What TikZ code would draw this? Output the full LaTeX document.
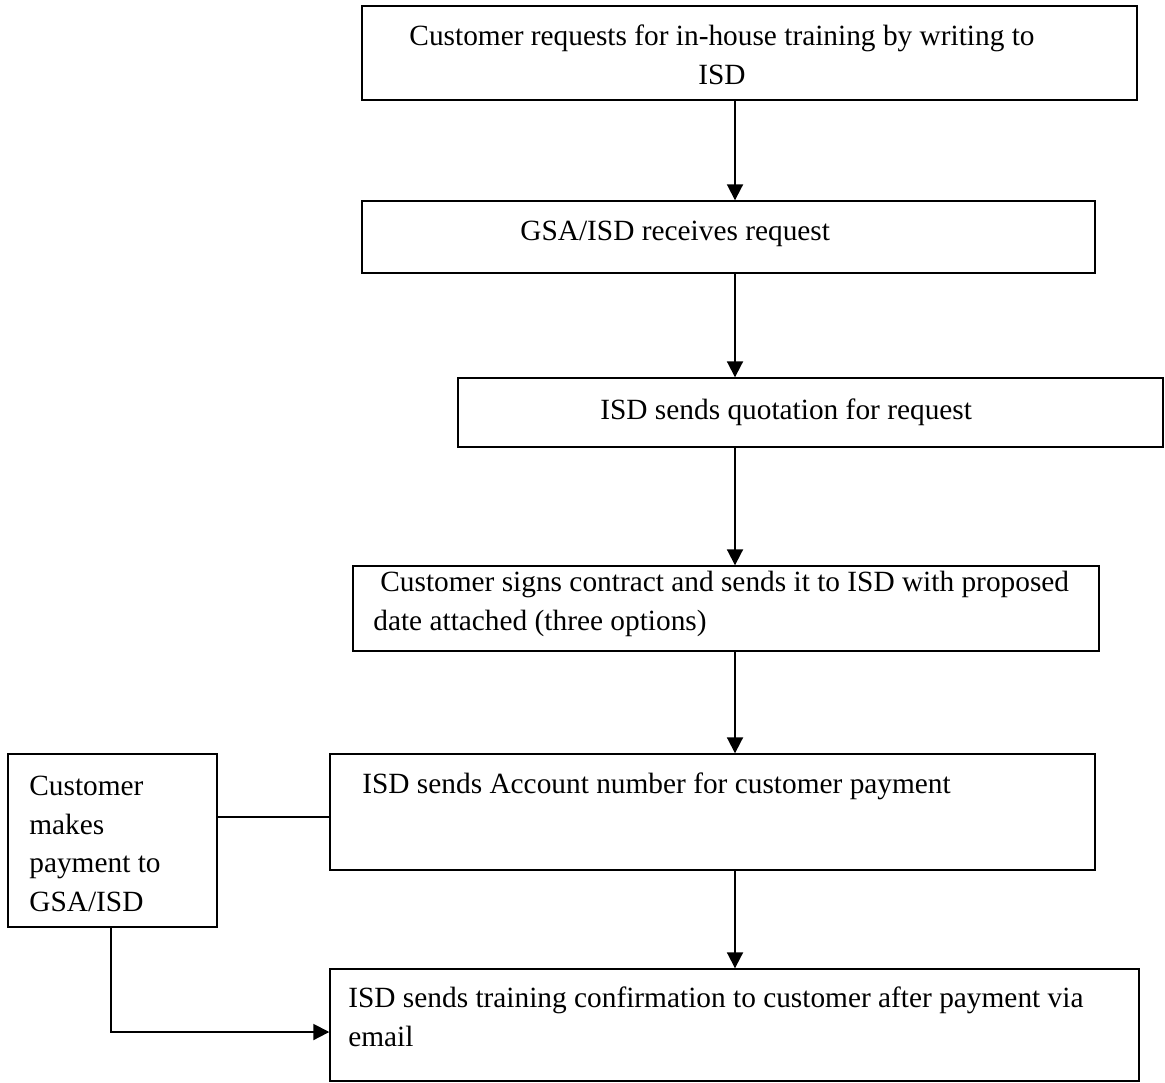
\documentclass[tikz,border=0pt]{standalone}
\usepackage{fontspec}
\setmainfont{Liberation Serif}
\usetikzlibrary{arrows.meta}

\begin{document}
\begin{tikzpicture}[
    box/.style={draw, line width=0.8pt, inner sep=0pt},
    txt/.style={inner sep=0pt, align=left, font=\fontsize{16.7}{22}\selectfont},
    flow/.style={line width=1.1pt, -{Triangle[length=3.2mm,width=3.2mm]}}
  ]
  \useasboundingbox (0,0) rectangle (23.3,-21.64);

  % boxes
  \node[box, minimum width=15.5cm, minimum height=1.88cm] (request) at (14.99,-1.06) {};
  \node[box, minimum width=14.66cm, minimum height=1.44cm] (receive) at (14.57,-4.74) {};
  \node[box, minimum width=14.1cm, minimum height=1.38cm] (quote) at (16.21,-8.25) {};
  \node[box, minimum width=14.92cm, minimum height=1.7cm] (contract) at (14.52,-12.17) {};
  \node[box, minimum width=15.3cm, minimum height=2.32cm] (account) at (14.25,-16.24) {};
  \node[box, minimum width=4.18cm, minimum height=3.46cm] (payment) at (2.25,-16.81) {};
  \node[box, minimum width=16.18cm, minimum height=2.24cm] (confirm) at (14.69,-20.5) {};

  % texts
  \node[txt, align=center] (requestText) at (14.44,-1.1) {Customer requests for in-house training by writing to\\ISD};
  \node[txt, anchor=west] (receiveText) at (10.4,-4.68) {GSA/ISD receives request};
  \node[txt, anchor=west] (quoteText) at (12.0,-8.24) {ISD sends quotation for request};
  \node[txt, anchor=west] (contractText) at (7.46,-12.08) {\hspace*{0.14cm}Customer signs contract and sends it to ISD with proposed\\date attached (three options)};
  \node[txt, anchor=west] (accountText) at (7.24,-15.72) {ISD sends Account number for customer payment};
  \node[txt, anchor=west] (paymentText) at (0.58,-16.88) {Customer\\makes\\payment to\\GSA/ISD};
  \node[txt, anchor=west] (confirmText) at (6.96,-20.33) {ISD sends training confirmation to customer after payment via\\email};

  % connectors
  \coordinate (spine) at (14.7,0);
  \coordinate (link) at (0,-16.34);
  \coordinate (bend) at (2.22,-20.64);
  \draw[flow] (request.south -| spine) -- (receive.north -| spine);
  \draw[flow] (receive.south -| spine) -- (quote.north -| spine);
  \draw[flow] (quote.south -| spine) -- (contract.north -| spine);
  \draw[flow] (contract.south -| spine) -- (account.north -| spine);
  \draw[flow] (account.south -| spine) -- (confirm.north -| spine);
  \draw[line width=1.1pt] (payment.east |- link) -- (account.west |- link);
  \draw[flow] (payment.south -| bend) |- (confirm.west |- bend);
\end{tikzpicture}
\end{document}
